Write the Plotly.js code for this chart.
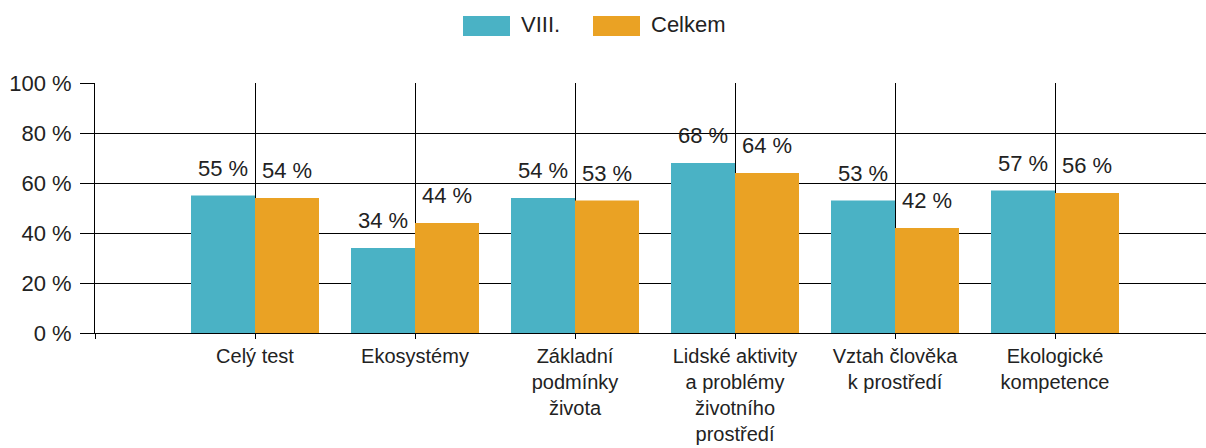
<!DOCTYPE html>
<html><head><meta charset="utf-8">
<script src="https://cdn.plot.ly/plotly-3.0.1.min.js"></script>
<style>html,body{margin:0;padding:0;background:#fff;}#chart{width:1206px;height:448px;}</style>
</head><body><div id="chart"></div>
<script>
const categories = ["Celý test", "Ekosystémy", "Základní<br>podmínky<br>života", "Lidské aktivity<br>a problémy<br>životního<br>prostředí", "Vztah člověka<br>k prostředí", "Ekologické<br>kompetence"];
const seriesNames = ["VIII.", "Celkem"];
const viii = [55, 34, 54, 68, 53, 57];
const celkem = [54, 44, 53, 64, 42, 56];
const yTickVals = [0, 20, 40, 60, 80, 100];
const yTickText = ["0 %", "20 %", "40 %", "60 %", "80 %", "100 %"];

const colors = ["#4AB2C5", "#EAA224"];
const FONT = "Liberation Sans, Arial, sans-serif";
const FS = 22;
const FSX = 20;
const TXT = "#222222";

const W = 1206, H = 448;
const M = {l: 95, r: 0, t: 83, b: 115};
const pw = W - M.l - M.r, ph = H - M.t - M.b;
const px2x = p => (p - M.l) / pw;
const py2y = p => (H - M.b - p) / ph;

const idx = categories.map((c, i) => i);
const series = [viii, celkem];

const traces = series.map((vals, s) => ({
  type: 'bar', x: idx, y: vals, name: seriesNames[s],
  marker: {color: colors[s], line: {width: 0}},
  hoverinfo: 'x+y'
}));

const annotations = [];
series.forEach((vals, s) => {
  vals.forEach((v, i) => {
    annotations.push({
      x: i + (s === 0 ? -0.2 : 0.2), y: v, xref: 'x', yref: 'y',
      text: v + ' %', showarrow: false, yanchor: 'bottom', xanchor: 'center',
      yshift: 13, font: {family: FONT, size: FS, color: TXT}
    });
  });
});

// legend
const legendItems = [{sx: 463, tx: 519}, {sx: 593, tx: 649}];
const shapes = [];
legendItems.forEach((it, s) => {
  shapes.push({type: 'rect', xref: 'paper', yref: 'paper',
    x0: px2x(it.sx), x1: px2x(it.sx + 47), y0: py2y(36), y1: py2y(16),
    fillcolor: colors[s], line: {width: 0}});
  annotations.push({xref: 'paper', yref: 'paper', x: px2x(it.tx), y: py2y(24),
    xanchor: 'left', yanchor: 'middle', showarrow: false, text: seriesNames[s],
    font: {family: FONT, size: FS, color: TXT}});
});

const layout = {
  width: W, height: H, margin: M,
  paper_bgcolor: '#fff', plot_bgcolor: '#fff',
  barmode: 'group', bargap: 0.2, bargroupgap: 0,
  showlegend: false,
  font: {family: FONT, size: FS, color: TXT},
  xaxis: {
    range: [-1, -1 + pw / 160],
    tickmode: 'array', tickvals: [-1].concat(idx), ticktext: [''].concat(categories),
    showgrid: true, gridcolor: '#000', gridwidth: 1,
    ticks: 'outside', ticklen: 5, tickcolor: '#000', tickwidth: 1,
    showline: true, linecolor: '#000', linewidth: 1,
    zeroline: false, ticklabelstandoff: 0,
    tickfont: {family: FONT, size: FSX, color: TXT}
  },
  yaxis: {
    range: [0, 100], tickmode: 'array', tickvals: yTickVals, ticktext: yTickText,
    showgrid: true, gridcolor: '#000', gridwidth: 1,
    ticks: 'outside', ticklen: 14, tickcolor: '#000', tickwidth: 1,
    showline: true, linecolor: '#000', linewidth: 1,
    zeroline: false, ticklabelstandoff: 4,
    tickfont: {family: FONT, size: FS, color: TXT}
  },
  annotations: annotations,
  shapes: shapes
};

Plotly.newPlot('chart', traces, layout, {displayModeBar: false, staticPlot: true});
</script></body></html>
